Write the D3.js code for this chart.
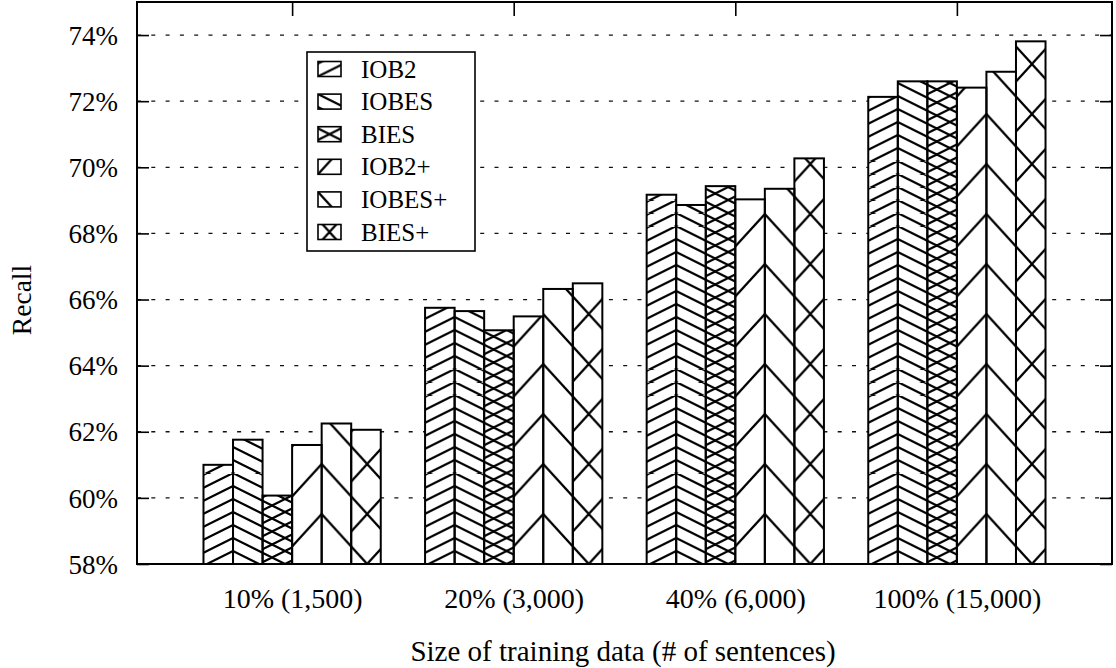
<!DOCTYPE html>
<html>
<head>
<meta charset="utf-8">
<script src="https://cdn.jsdelivr.net/npm/d3@7"></script>
<style>
  body { margin: 0; background: #fff; }
  svg { display: block; }
  text { font-family: "Liberation Serif", "Times New Roman", serif; fill: #000; }
</style>
</head>
<body>
<svg id="chart" width="1116" height="668"></svg>
<script>
// Recall by tagging scheme and training-set size
const categories = ["10% (1,500)", "20% (3,000)", "40% (6,000)", "100% (15,000)"];
const seriesNames = ["IOB2", "IOBES", "BIES", "IOB2+", "IOBES+", "BIES+"];
const iob2      = [61.00, 65.75, 69.17, 72.13];
const iobes     = [61.76, 65.65, 68.86, 72.60];
const bies      = [60.07, 65.07, 69.43, 72.60];
const iob2Plus  = [61.60, 65.49, 69.03, 72.41];
const iobesPlus = [62.25, 66.32, 69.35, 72.89];
const biesPlus  = [62.06, 66.49, 70.27, 73.81];
const yTicks = [58, 60, 62, 64, 66, 68, 70, 72, 74];

const seriesValues = [iob2, iobes, bies, iob2Plus, iobesPlus, biesPlus];
// hatch style per series: density and direction
const hatch = [
  { dense: true,  dir: "up" },
  { dense: true,  dir: "down" },
  { dense: true,  dir: "cross" },
  { dense: false, dir: "up" },
  { dense: false, dir: "down" },
  { dense: false, dir: "cross" }
];

const plot = { left: 137, right: 1112, top: 2, bottom: 564 };
const svg = d3.select("#chart");
const defs = svg.append("defs");

const x = d3.scaleLinear().domain([-0.7, 3.7]).range([plot.left, plot.right]);
const y = d3.scaleLinear().domain([58, 75]).range([plot.bottom, plot.top]);
const bw = (x(1) - x(0)) / 7.5;
const barLeft = (g, i) => x(g) - 3 * bw + i * bw;

// tile size for hatch patterns
function tileOf(h) { return h.dense ? { w: 26, h: 13 } : { w: 45.5, h: 50 }; }

function makePattern(id, h, ax, ay) {
  const t = tileOf(h);
  const p = defs.append("pattern")
    .attr("id", id)
    .attr("patternUnits", "userSpaceOnUse")
    .attr("width", t.w).attr("height", t.h)
    .attr("patternTransform", `translate(${ax},${ay})`);
  const lines = [];
  [-1, 0, 1].forEach(k => {
    if (h.dir === "up" || h.dir === "cross")
      lines.push([0, t.h + k * t.h, t.w, k * t.h]);
    if (h.dir === "down" || h.dir === "cross")
      lines.push([0, k * t.h, t.w, t.h + k * t.h]);
  });
  // extend each segment a little past the tile so thick strokes join cleanly
  p.selectAll("line").data(lines).join("line")
    .attr("x1", d => d[0] - 0.1 * t.w).attr("y1", d => d[1] - 0.1 * (d[3] - d[1]))
    .attr("x2", d => d[2] + 0.1 * t.w).attr("y2", d => d[3] + 0.1 * (d[3] - d[1]))
    .attr("stroke", "#000").attr("stroke-width", 2.2);
}

// gridlines
const gridG = svg.append("g");
gridG.selectAll("line").data(yTicks.filter(v => v > 58)).join("line")
  .attr("x1", plot.left).attr("x2", plot.right)
  .attr("y1", d => y(d)).attr("y2", d => y(d))
  .attr("stroke", "#111").attr("stroke-width", 1.3)
  .attr("stroke-dasharray", "4,10.3");

// bars
const bars = [];
categories.forEach((c, g) => {
  seriesValues.forEach((vals, i) => {
    bars.push({ g, i, v: vals[g] });
  });
});
bars.forEach(b => {
  const anchorX = b.i < 3 ? barLeft(b.g, 1) : barLeft(b.g, 4);
  makePattern(`hatch-${b.g}-${b.i}`, hatch[b.i], anchorX, plot.bottom);
});

const barG = svg.append("g");
barG.selectAll("rect.bg").data(bars).join("rect").attr("class", "bg")
  .attr("x", d => barLeft(d.g, d.i)).attr("width", bw)
  .attr("y", d => y(d.v)).attr("height", d => plot.bottom - y(d.v))
  .attr("fill", "#fff");
barG.selectAll("rect.fg").data(bars).join("rect").attr("class", "fg")
  .attr("x", d => barLeft(d.g, d.i)).attr("width", bw)
  .attr("y", d => y(d.v)).attr("height", d => plot.bottom - y(d.v))
  .attr("fill", d => `url(#hatch-${d.g}-${d.i})`)
  .attr("stroke", "#000").attr("stroke-width", 2);

// axes
const axisLeftG = svg.append("g").attr("transform", `translate(${plot.left},0)`)
  .call(d3.axisLeft(y).tickValues(yTicks).tickSize(-12).tickPadding(19).tickFormat(d => d + "%"));
const axisRightG = svg.append("g").attr("transform", `translate(${plot.right},0)`)
  .call(d3.axisRight(y).tickValues(yTicks).tickSize(-12).tickFormat(""));
const axisTopG = svg.append("g").attr("transform", `translate(0,${plot.top})`)
  .call(d3.axisTop(x).tickValues([0, 1, 2, 3]).tickSize(-14).tickFormat(""));
const axisBottomG = svg.append("g").attr("transform", `translate(0,${plot.bottom})`)
  .call(d3.axisBottom(x).tickValues([0, 1, 2, 3]).tickSize(0).tickPadding(24).tickFormat(d => categories[d]));
[axisLeftG, axisRightG, axisTopG, axisBottomG].forEach(a => {
  a.select(".domain").remove();
  a.selectAll("line").attr("stroke", "#000").attr("stroke-width", 1.6);
  a.selectAll("text")
    .style("font-family", '"Liberation Serif", serif').attr("fill", "#000");
});
axisLeftG.selectAll("text").style("font-size", "27px").attr("dy", "0.34em");
axisBottomG.selectAll("text").style("font-size", "28px");

// frame
svg.append("rect")
  .attr("x", plot.left).attr("y", plot.top)
  .attr("width", plot.right - plot.left).attr("height", plot.bottom - plot.top)
  .attr("fill", "none").attr("stroke", "#000").attr("stroke-width", 2);

// axis titles
svg.append("text")
  .attr("transform", `translate(31,300) rotate(-90)`)
  .attr("text-anchor", "middle").style("font-size", "27.5px")
  .text("Recall");
svg.append("text")
  .attr("x", 623).attr("y", 661)
  .attr("text-anchor", "middle").style("font-size", "29px")
  .text("Size of training data (# of sentences)");

// legend
const leg = { x: 307, y: 52, w: 168, h: 199, row: 32.6, first: 69, sw: 23, sh: 15 };
svg.append("rect")
  .attr("x", leg.x).attr("y", leg.y).attr("width", leg.w).attr("height", leg.h)
  .attr("fill", "#fff").attr("stroke", "#000").attr("stroke-width", 1.6);
const legItems = seriesNames.map((name, i) => ({ name, i, cy: leg.first + i * leg.row }));
legItems.forEach(d => {
  const h = hatch[d.i];
  const sx = leg.x + 11;
  // rising hatch starts at the lower-left corner, falling at the upper-left, crossed at the centre
  const ax = h.dir === "cross" ? sx + leg.sw / 2 : sx;
  const ay = h.dir === "up" ? d.cy + leg.sh / 2 : h.dir === "down" ? d.cy - leg.sh / 2 : d.cy;
  makePattern(`leg-hatch-${d.i}`, h, ax, ay);
});
const li = svg.append("g").selectAll("g").data(legItems).join("g");
li.append("rect")
  .attr("x", leg.x + 11).attr("y", d => d.cy - leg.sh / 2).attr("width", leg.sw).attr("height", leg.sh)
  .attr("fill", d => `url(#leg-hatch-${d.i})`)
  .attr("stroke", "#000").attr("stroke-width", 1.6);
li.append("text")
  .attr("x", leg.x + 54).attr("y", d => d.cy).attr("dy", "0.34em")
  .style("font-size", "25px")
  .text(d => d.name);
</script>
</body>
</html>
